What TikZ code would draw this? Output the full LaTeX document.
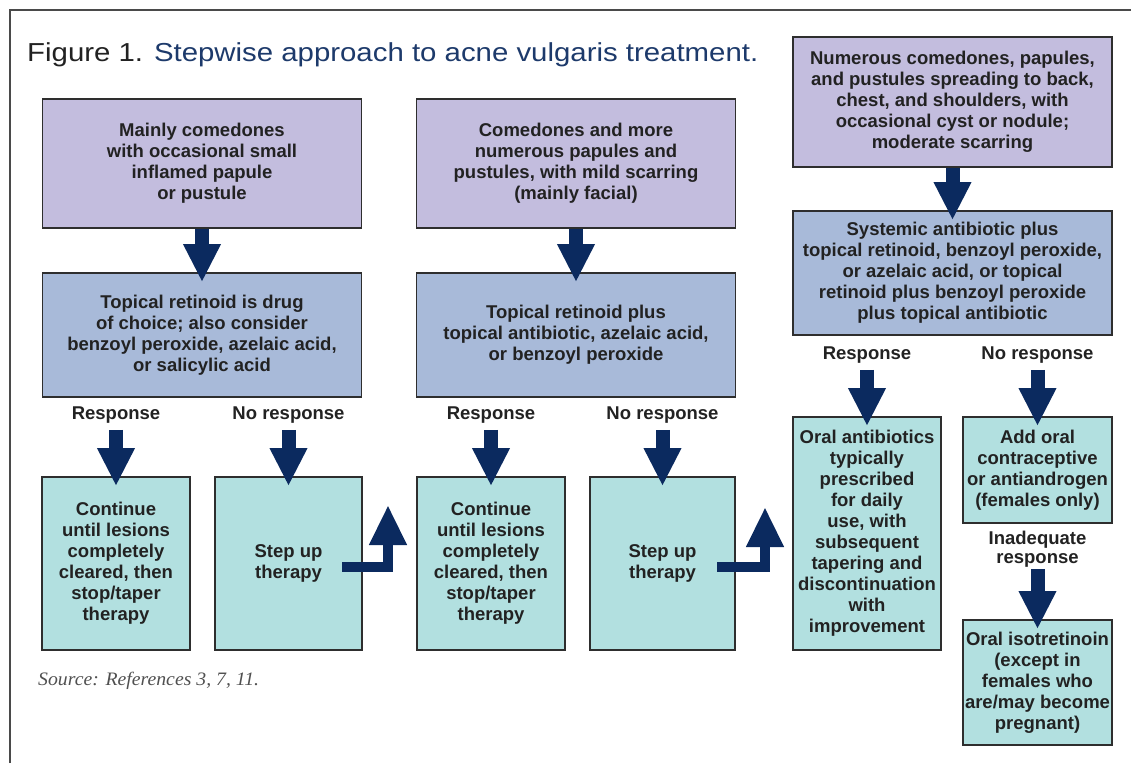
\documentclass[tikz,border=0pt]{standalone}
\usepackage{fontspec}
\setmainfont{Liberation Sans}
\newfontfamily\srcfont{Liberation Serif}
\usetikzlibrary{arrows.meta}
\definecolor{cPurp}{HTML}{C3BDDE}
\definecolor{cBlue}{HTML}{A8BAD9}
\definecolor{cTeal}{HTML}{B2E0E0}
\definecolor{cNavy}{HTML}{0B2A5F}
\definecolor{cBorder}{HTML}{2E2E2E}
\definecolor{cText}{HTML}{222222}
\definecolor{cTitle}{HTML}{1D3A6B}
\definecolor{cFrame}{HTML}{4A4A4A}
\definecolor{cSrc}{HTML}{505050}
\tikzset{
  box/.style={draw=cBorder, line width=1.8pt, align=center, text=cText, inner sep=0pt,
    font=\fontsize{18.5}{21}\selectfont\bfseries},
  purpbox/.style={box, fill=cPurp, minimum width=319pt, minimum height=129pt},
  bluebox/.style={box, fill=cBlue, minimum width=319pt, minimum height=124pt},
  tealbox/.style={box, fill=cTeal, minimum width=148pt},
  lab/.style={inner sep=0pt, align=center, text=cText, text height=13.5pt, text depth=4pt,
    font=\fontsize{18.5}{19}\selectfont\bfseries},
  dnarrow/.style={draw=cNavy, line width=14pt, -{Triangle[width=35pt,length=38pt]}, shorten >=-10pt},
  uparrow/.style={draw=cNavy, line width=10pt, -{Triangle[width=35pt,length=40pt]}},
  frameline/.style={draw=cFrame, line width=2pt}
}
\begin{document}
\begin{tikzpicture}[x=1pt,y=-1pt]
\useasboundingbox (0,0) rectangle (1131,763);
\draw[frameline] (10,763) |- (1131,10);

\node[anchor=base west, inner sep=0pt] (title) at (27,61.7)
  {\scalebox{1.13}[1]{\fontsize{26}{30}\selectfont\color{cText}Figure 1. \color{cTitle}Stepwise approach to acne vulgaris treatment.}};

% column 1
\node[purpbox] (A1) at (202,163.5) {Mainly comedones\\with occasional small\\inflamed papule\\or pustule};
\node[bluebox] (B1) at (202,335) {Topical retinoid is drug\\of choice; also consider\\benzoyl peroxide, azelaic acid,\\or salicylic acid};
\node[tealbox, minimum height=173pt] (C1) at (116,563.5) {Continue\\until lesions\\completely\\cleared, then\\stop/taper\\therapy};
\node[tealbox, minimum width=147pt, minimum height=173pt] (C2) at (288.5,563.5) {Step up\\therapy};
\node[lab] (r1) at (116,415) {Response};
\node[lab] (n1) at (288.5,415) {No response};

% column 2
\node[purpbox] (A2) at (576,163.5) {Comedones and more\\numerous papules and\\pustules, with mild scarring\\(mainly facial)};
\node[bluebox] (B2) at (576,335) {Topical retinoid plus\\topical antibiotic, azelaic acid,\\or benzoyl peroxide};
\node[tealbox, minimum height=173pt] (C3) at (491,563.5) {Continue\\until lesions\\completely\\cleared, then\\stop/taper\\therapy};
\node[tealbox, minimum width=145pt, minimum height=173pt] (C4) at (662.5,563.5) {Step up\\therapy};
\node[lab] (r2) at (491,415) {Response};
\node[lab] (n2) at (662.5,415) {No response};

% column 3
\node[purpbox, minimum height=130pt] (A3) at (952.5,102) {Numerous comedones, papules,\\and pustules spreading to back,\\chest, and shoulders, with\\occasional cyst or nodule;\\moderate scarring};
\node[bluebox] (B3) at (952.5,273) {Systemic antibiotic plus\\topical retinoid, benzoyl peroxide,\\or azelaic acid, or topical\\retinoid plus benzoyl peroxide\\plus topical antibiotic};
\node[tealbox, minimum height=233pt] (C5) at (867,533.5) {Oral antibiotics\\typically\\prescribed\\for daily\\use, with\\subsequent\\tapering and\\discontinuation\\with\\improvement};
\node[tealbox, minimum width=149pt, minimum height=106pt] (C6) at (1037.5,470) {Add oral\\contraceptive\\or antiandrogen\\(females only)};
\node[tealbox, minimum width=149pt, minimum height=125pt] (C7) at (1037.5,682.5) {Oral isotretinoin\\(except in\\females who\\are/may become\\pregnant)};
\node[lab] (r3) at (867,355) {Response};
\node[lab] (n3) at (1037.5,355) {No response};
\node[lab, text height=, text depth=] (inad) at (1037.5,549) {Inadequate\\response};

% source
\node[anchor=base west, inner sep=0pt, text=cSrc] (src) at (38,685)
  {\scalebox{1.04}[1]{\srcfont\itshape\fontsize{19}{21}\selectfont Source: References 3, 7, 11.}};

% arrows
\draw[dnarrow] (A1) -- (B1);
\draw[dnarrow] (A2) -- (B2);
\draw[dnarrow] (A3) -- (B3);
\draw[dnarrow, shorten <=6pt] (r1) -- (C1);
\draw[dnarrow, shorten <=6pt] (n1) -- (C2);
\draw[dnarrow, shorten <=6pt] (r2) -- (C3);
\draw[dnarrow, shorten <=6pt] (n2) -- (C4);
\draw[dnarrow, shorten <=6pt] (r3) -- (C5);
\draw[dnarrow, shorten <=6pt] (n3) -- (C6);
\draw[dnarrow, shorten <=2pt] (inad) -- (C7);

\coordinate (s1a) at (342,567);
\coordinate (s1b) at (388,505);
\coordinate (s2a) at (717,567);
\coordinate (s2b) at (765,507);
\draw[uparrow] (s1a) -| (s1b);
\draw[uparrow] (s2a) -| (s2b);
\end{tikzpicture}
\end{document}
